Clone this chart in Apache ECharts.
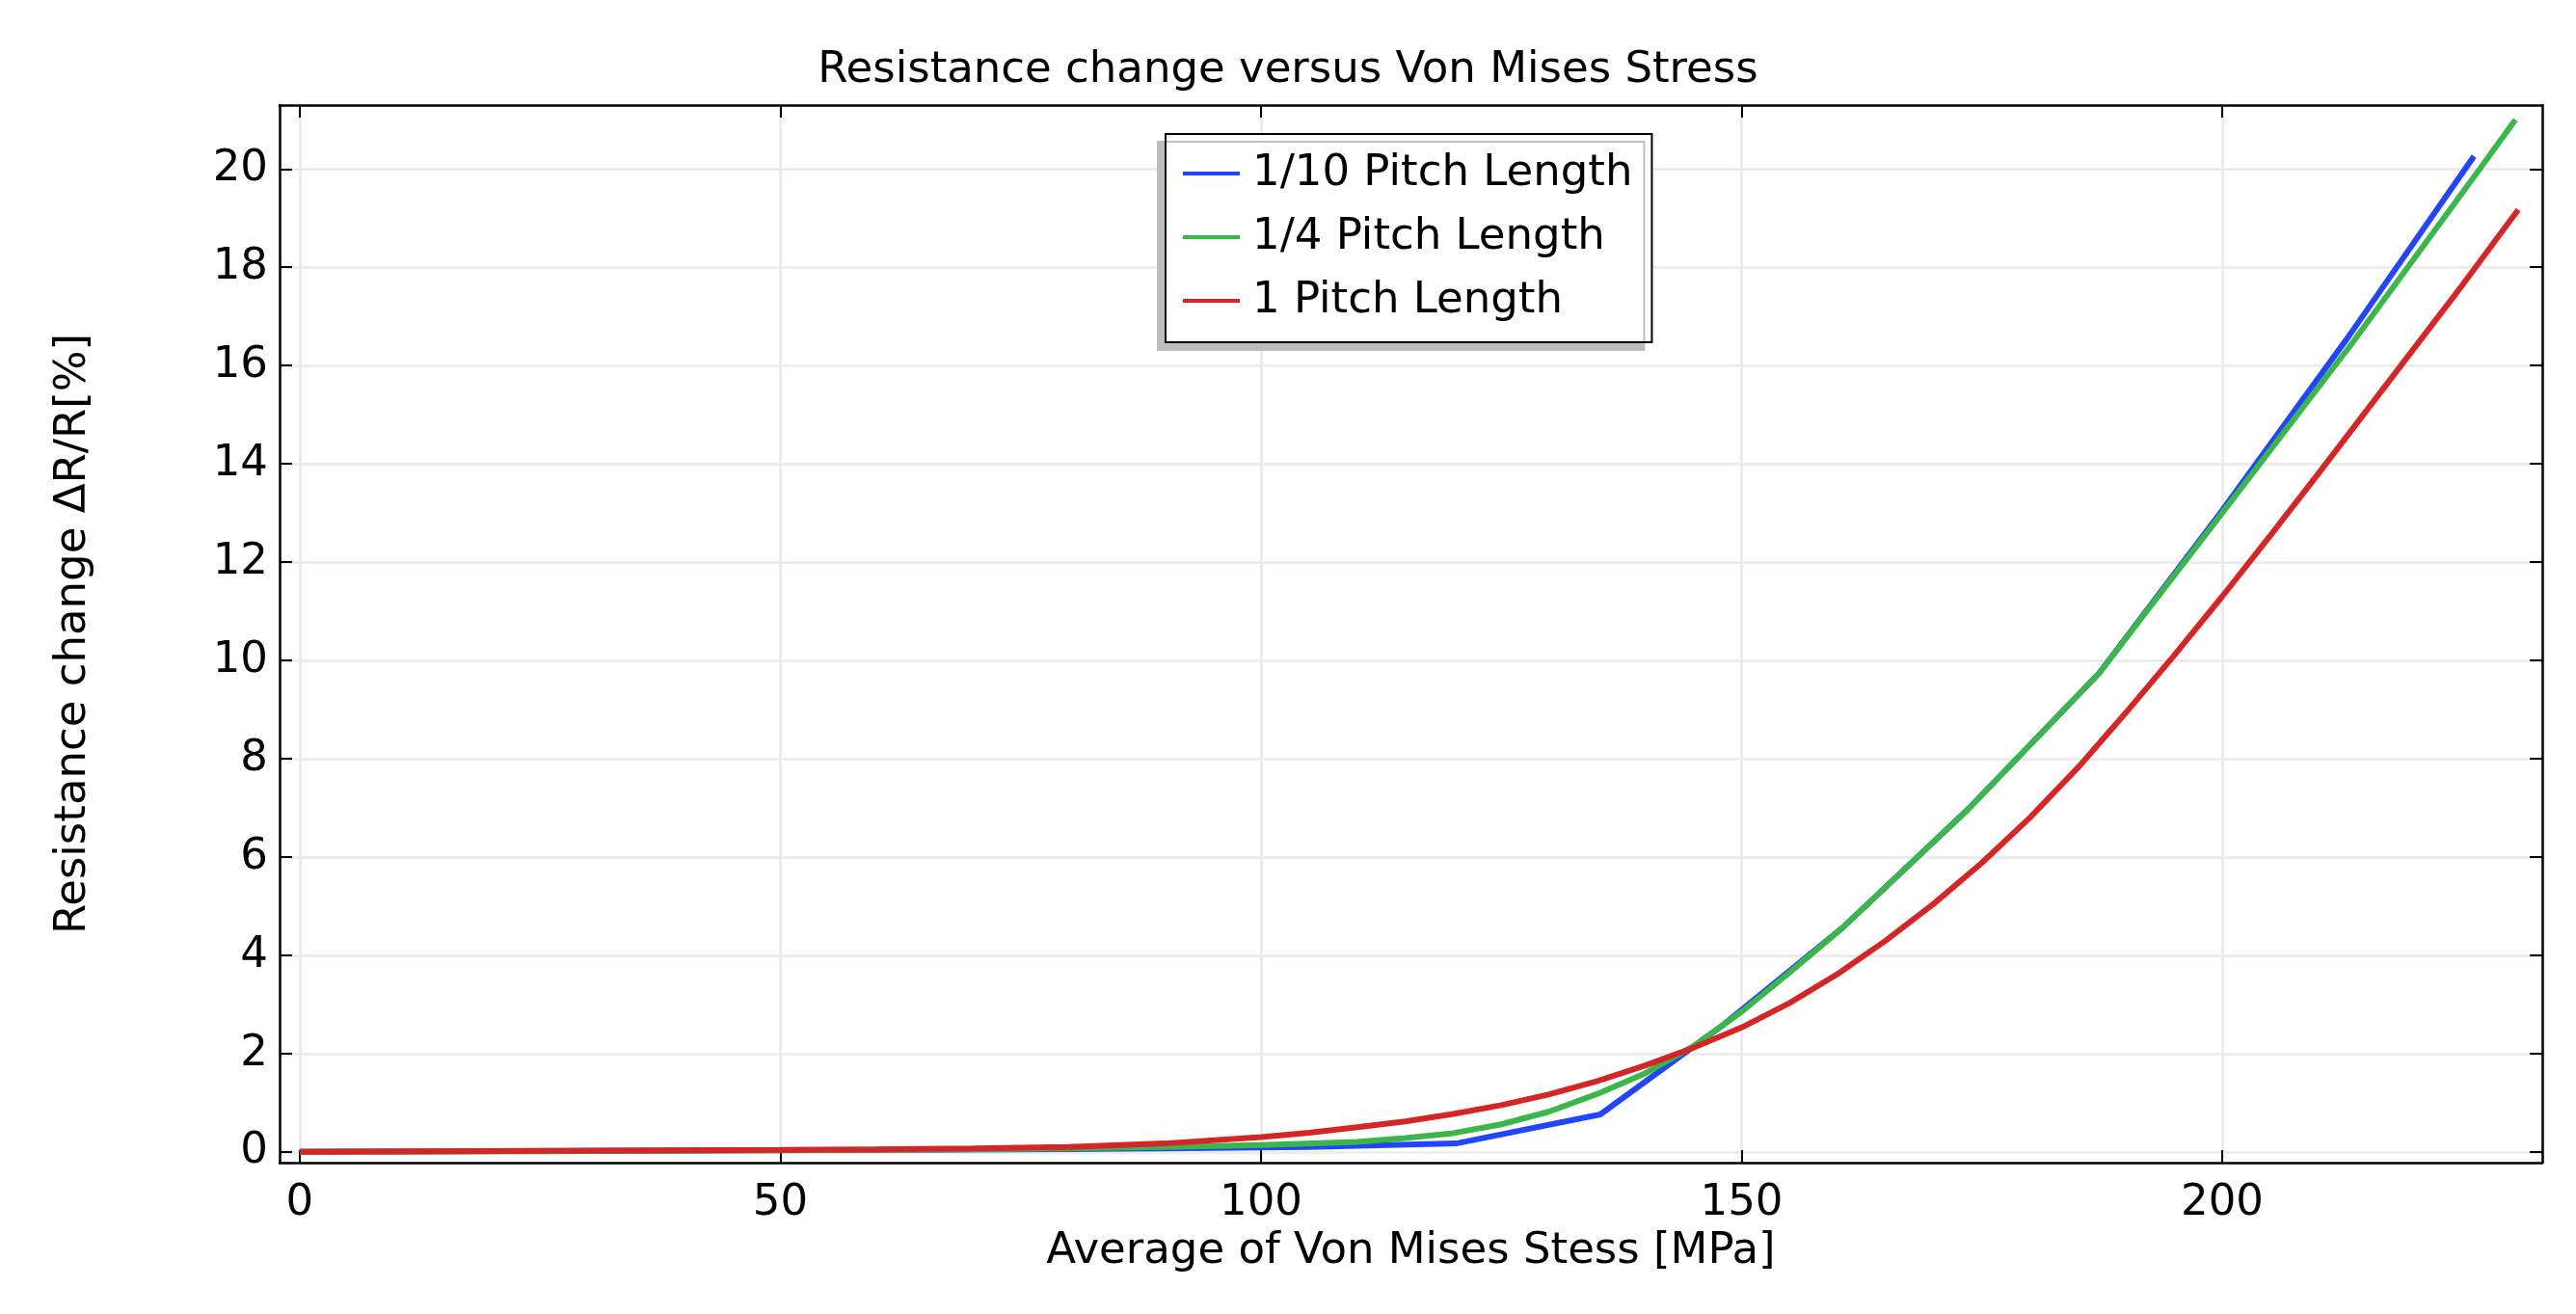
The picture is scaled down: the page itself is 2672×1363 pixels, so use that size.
<!DOCTYPE html>
<html>
<head>
<meta charset="utf-8">
<script src="https://cdn.jsdelivr.net/npm/echarts@6/dist/echarts.min.js"></script>
<style>
html,body{margin:0;padding:0;background:#fff;}
#chart{width:2672px;height:1363px;}
</style>
</head>
<body>
<div id="chart"></div>
<script>
const seriesNames = ['1/10 Pitch Length', '1/4 Pitch Length', '1 Pitch Length'];
const xTicks = [0, 50, 100, 150, 200];
const yTicks = [0, 2, 4, 6, 8, 10, 12, 14, 16, 18, 20];

const blueX = [0, 15, 30, 45, 60, 75, 90, 105, 120.3, 135.3, 148, 160.5, 173.5, 187.2, 200, 213, 226.2];
const blueY = [0, 0.01, 0.02, 0.03, 0.04, 0.05, 0.07, 0.1, 0.17, 0.76, 2.57, 4.56, 6.96, 9.74, 13.05, 16.55, 20.26];

const greenX = [0, 25, 50, 75, 90, 100, 110, 115, 120, 125, 130, 135, 140, 145, 150, 155, 160.5, 173.5, 187.2, 200, 213.5, 226.8, 230.5];
const greenY = [0, 0.01, 0.03, 0.06, 0.1, 0.14, 0.2, 0.28, 0.38, 0.56, 0.82, 1.18, 1.6, 2.15, 2.85, 3.65, 4.56, 6.96, 9.74, 13.0, 16.45, 20.0, 21.0];

const redX = [0, 25, 50, 60, 70, 80, 90, 100, 105, 110, 115, 120, 125, 130, 135, 140, 145, 150, 155, 160, 165, 170, 175, 180, 185, 190, 195, 200, 205, 210, 215, 220, 225, 230.8];
const redY = [0, 0.02, 0.04, 0.05, 0.07, 0.1, 0.17, 0.3, 0.39, 0.5, 0.62, 0.77, 0.95, 1.17, 1.44, 1.76, 2.12, 2.53, 3.03, 3.62, 4.3, 5.05, 5.88, 6.8, 7.82, 8.94, 10.1, 11.3, 12.54, 13.8, 15.08, 16.36, 17.64, 19.17];

const colors = ['#2246ff', '#3cb64a', '#d42626'];
const font = 'DejaVu Sans';

function pairs(xs, ys) { return xs.map((x, i) => [x, ys[i]]); }

const chart = echarts.init(document.getElementById('chart'), null, {renderer: 'canvas'});

const tickStyle = {show: true, inside: true, length: 13, lineStyle: {color: '#000', width: 2}};
const lineStyleAxis = {show: true, onZero: false, lineStyle: {color: '#000', width: 2.5}};

chart.setOption({
  animation: false,
  backgroundColor: '#fff',
  title: {
    text: 'Resistance change versus Von Mises Stress',
    left: 'center',
    top: 51,
    padding: 0,
    textStyle: {fontFamily: font, fontSize: 45, fontWeight: 'normal', color: '#000'}
  },
  grid: {left: 290, right: 35, top: 109, bottom: 157},
  legend: {
    orient: 'vertical',
    left: 1209,
    top: 139,
    padding: [16, 20, 18, 18],
    itemGap: 16,
    itemWidth: 59,
    itemHeight: 4,
    icon: 'rect',
    backgroundColor: '#fff',
    borderColor: '#000',
    borderWidth: 2,
    shadowColor: '#bdbdbd',
    shadowBlur: 0,
    shadowOffsetX: -8,
    shadowOffsetY: 8,
    textStyle: {fontFamily: font, fontSize: 45, color: '#000', lineHeight: 50, padding: [0, 0, 0, 8]},
    data: seriesNames
  },
  xAxis: [{
    type: 'value',
    min: -2.1,
    max: 233.3,
    position: 'bottom',
    name: 'Average of Von Mises Stess [MPa]',
    nameLocation: 'middle',
    nameGap: 70,
    nameTextStyle: {fontFamily: font, fontSize: 45, color: '#000'},
    axisLine: lineStyleAxis,
    axisTick: Object.assign({customValues: xTicks}, tickStyle),
    axisLabel: {customValues: xTicks, fontFamily: font, fontSize: 45, color: '#000', margin: 20},
    splitLine: {show: true, lineStyle: {color: '#ececec', width: 3}}
  }, {
    type: 'value',
    min: -2.1,
    max: 233.3,
    position: 'top',
    axisLine: lineStyleAxis,
    axisTick: Object.assign({customValues: xTicks}, tickStyle),
    axisLabel: {show: false},
    splitLine: {show: false}
  }],
  yAxis: [{
    type: 'value',
    min: -0.22,
    max: 21.3,
    position: 'left',
    name: 'Resistance change ΔR/R[%]',
    nameLocation: 'middle',
    nameGap: 191,
    nameTextStyle: {fontFamily: font, fontSize: 45, color: '#000'},
    axisLine: lineStyleAxis,
    axisTick: Object.assign({customValues: yTicks}, tickStyle),
    axisLabel: {customValues: yTicks, fontFamily: font, fontSize: 45, color: '#000', margin: 12},
    splitLine: {show: true, lineStyle: {color: '#ececec', width: 3}}
  }, {
    type: 'value',
    min: -0.22,
    max: 21.3,
    position: 'right',
    axisLine: lineStyleAxis,
    axisTick: Object.assign({customValues: yTicks}, tickStyle),
    axisLabel: {show: false},
    splitLine: {show: false}
  }],
  series: [
    {name: seriesNames[0], type: 'line', data: pairs(blueX, blueY), showSymbol: false, symbol: 'none', color: colors[0], lineStyle: {width: 6, color: colors[0]}},
    {name: seriesNames[1], type: 'line', data: pairs(greenX, greenY), showSymbol: false, symbol: 'none', color: colors[1], lineStyle: {width: 6, color: colors[1]}},
    {name: seriesNames[2], type: 'line', data: pairs(redX, redY), showSymbol: false, symbol: 'none', color: colors[2], lineStyle: {width: 6, color: colors[2]}}
  ]
});
</script>
</body>
</html>
